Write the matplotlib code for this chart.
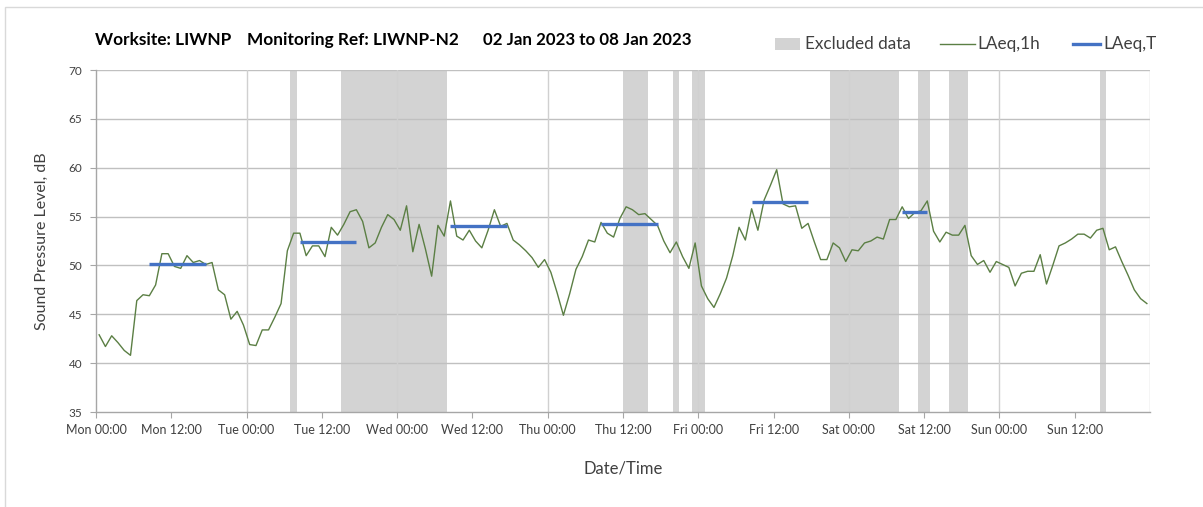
import matplotlib
matplotlib.use('Agg')
import matplotlib.pyplot as plt
from matplotlib.patches import Rectangle
from matplotlib.lines import Line2D
import numpy as np

plt.rcParams['font.family'] = ['Lato', 'DejaVu Sans']

# ------------------------------------------------------- #
# data (hourly LAeq, Mon 00:00 .. Sun 23:00)

laeq_1h = [
    42.9, 41.7, 42.8, 42.1, 41.3, 40.8, 46.4, 47.0, 46.9, 48.0,
    51.2, 51.2, 49.9, 49.7, 51.0, 50.3, 50.5, 50.1, 50.3, 47.5,
    47.0, 44.5, 45.3, 43.9, 41.9, 41.8, 43.4, 43.4, 44.7, 46.1,
    51.5, 53.3, 53.3, 51.0, 52.0, 52.0, 50.9, 53.9, 53.1, 54.2,
    55.5, 55.7, 54.5, 51.8, 52.3, 53.9, 55.2, 54.7, 53.6, 56.1,
    51.4, 54.2, 51.7, 48.9, 54.1, 53.0, 56.6, 53.0, 52.6, 53.6,
    52.5, 51.8, 53.6, 55.7, 54.0, 54.3, 52.6, 52.1, 51.5, 50.8,
    49.8, 50.6, 49.3, 47.2, 44.9, 47.1, 49.6, 50.9, 52.6, 52.4,
    54.4, 53.3, 52.9, 54.8, 56.0, 55.7, 55.2, 55.3, 54.7, 54.1,
    52.5, 51.3, 52.4, 50.9, 49.7, 52.3, 47.9, 46.6, 45.7, 47.1,
    48.7, 51.0, 53.9, 52.6, 55.8, 53.6, 56.7, 58.2, 59.8, 56.3,
    56.0, 56.1, 53.8, 54.3, 52.4, 50.6, 50.6, 52.3, 51.8, 50.4,
    51.6, 51.5, 52.3, 52.5, 52.9, 52.7, 54.7, 54.7, 56.0, 54.8,
    55.4, 55.6, 56.6, 53.5, 52.4, 53.4, 53.1, 53.1, 54.1, 51.0,
    50.1, 50.5, 49.3, 50.4, 50.1, 49.8, 47.9, 49.2, 49.4, 49.4,
    51.1, 48.1, 50.0, 52.0, 52.3, 52.7, 53.2, 53.2, 52.8, 53.6,
    53.8, 51.6, 51.9, 50.4, 49.0, 47.5, 46.6, 46.1,
]

# LAeq,T over working periods (start hour, end hour, level)
period_start = [8, 32, 56, 80, 104, 128]
period_end = [18, 42, 66, 90, 114, 133]
period_level = [50.1, 52.4, 54.0, 54.2, 56.5, 55.5]

# excluded data (start hour, end hour)
excl_start = [31, 39, 84, 92, 95, 117, 131, 136, 160]
excl_end = [32, 56, 88, 93, 97, 128, 133, 139, 161]

tick_labels = ['Mon 00:00', 'Mon 12:00', 'Tue 00:00', 'Tue 12:00', 'Wed 00:00',
               'Wed 12:00', 'Thu 00:00', 'Thu 12:00', 'Fri 00:00', 'Fri 12:00',
               'Sat 00:00', 'Sat 12:00', 'Sun 00:00', 'Sun 12:00']

# ------------------------------------------------------- #

W, H = 1203, 507
fig = plt.figure(figsize=(W / 100, H / 100), dpi=100)
ax = fig.add_axes([96 / W, 1 - 412 / H, (1150 - 96) / W, (412 - 70) / H])

green = '#5b7f44'
blue = '#4472c4'
band = '#d3d3d3'
txt = '#404040'

for s, e in zip(excl_start, excl_end):
    ax.axvspan(s, e, color=band, lw=0, zorder=0.5)

for y in range(40, 71, 5):
    ax.axhline(y, color='#c0c0c0', lw=1, zorder=1)
for x in range(24, 169, 24):
    ax.axvline(x, color='#d0d0d0', lw=1, zorder=1)

hours = np.arange(len(laeq_1h)) + 0.5
ax.plot(hours, laeq_1h, color=green, lw=1.0, zorder=3)

for s, e, lv in zip(period_start, period_end, period_level):
    ax.plot([s + 0.5, e - 0.5], [lv, lv], color=blue, lw=2.4,
            solid_capstyle='butt', zorder=4)

ax.set_xlim(0, 168)
ax.set_ylim(35, 70)
ax.set_xticks(np.arange(0, 168, 12))
ax.set_xticklabels(tick_labels)
ax.set_yticks(range(35, 71, 5))

for side in ['top', 'right']:
    ax.spines[side].set_visible(False)
for side in ['left', 'bottom']:
    ax.spines[side].set_color('#a6a6a6')
    ax.spines[side].set_linewidth(1)

ax.tick_params(axis='both', direction='out', length=4, color='#a6a6a6',
               labelcolor=txt, labelsize=9)
ax.tick_params(axis='x', pad=5)
ax.tick_params(axis='y', pad=6, labelsize=8.5)

ax.set_ylabel('Sound Pressure Level, dB', fontsize=11.5, color=txt, labelpad=14)
ax.set_xlabel('Date/Time', fontsize=12, color=txt, labelpad=17)

# title pieces
ty = 1 - 40 / H
fig.text(95 / W, ty, 'Worksite: LIWNP', fontsize=12.4, fontweight='bold', va='center')
fig.text(247 / W, ty, 'Monitoring Ref: LIWNP-N2', fontsize=12.4, fontweight='bold', va='center')
fig.text(483 / W, ty, '02 Jan 2023 to 08 Jan 2023', fontsize=12.2, fontweight='bold', va='center')

# legend drawn by hand to match spacing
ly = 1 - 44 / H
fig.add_artist(Rectangle((775 / W, 1 - 50 / H), 25 / W, 12 / H, transform=fig.transFigure,
                         color=band, lw=0))
fig.text(805 / W, ly, 'Excluded data', fontsize=12.3, color=txt, va='center')
fig.add_artist(Line2D([940 / W, 975 / W], [ly, ly], transform=fig.transFigure,
                      color=green, lw=1.0))
fig.text(977 / W, ly, 'LAeq,1h', fontsize=12.3, color=txt, va='center')
fig.add_artist(Line2D([1073 / W, 1100 / W], [ly, ly], transform=fig.transFigure,
                      color=blue, lw=2.4))
fig.text(1103 / W, ly, 'LAeq,T', fontsize=12.3, color=txt, va='center')

# outer chart border
fig.add_artist(Rectangle((5 / W, -0.01), 1.1, 1 - 7 / H + 0.01, transform=fig.transFigure,
                         fill=False, ec='#d9d9d9', lw=1))

fig.savefig('out.png', dpi=100, facecolor='w')
